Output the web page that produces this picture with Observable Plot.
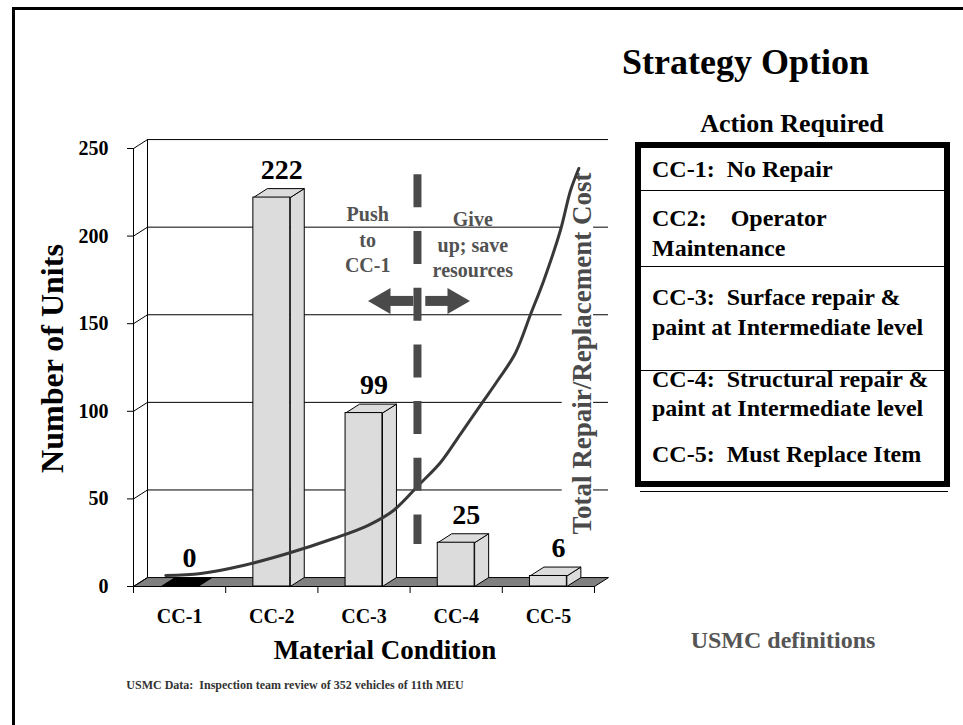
<!DOCTYPE html>
<html><head><meta charset="utf-8">
<script src="https://cdn.jsdelivr.net/npm/d3@7"></script>
<script src="https://cdn.jsdelivr.net/npm/@observablehq/plot@0.6"></script>
<style>
body{margin:0;background:#fff;}
#root{position:relative;width:963px;height:725px;overflow:hidden;font-family:"Liberation Serif","Times New Roman",serif;font-weight:bold;color:#000;}
#root svg{position:absolute;left:0;top:0;}
.t{position:absolute;white-space:pre;line-height:1.2;}
</style></head><body><div id="root"></div>
<script>
// ---- data ----
const categories = ["CC-1", "CC-2", "CC-3", "CC-4", "CC-5"];
const units = [0, 222, 99, 25, 6];
const yTicks = [0, 50, 100, 150, 200, 250];
const xTicks = [0, 1, 2, 3, 4, 5];
// repair/replacement cost curve (x = condition position, y = relative cost on the units scale)
const costX = [0.35, 0.73, 1.19, 1.67, 2.17, 2.54, 2.82, 3.11, 3.33, 3.55, 3.80, 3.95, 4.14, 4.31, 4.45, 4.63, 4.74, 4.83];
const costY = [6.3, 7.4, 12.0, 18.8, 27.4, 34.8, 43.4, 58.8, 70.8, 87.3, 106.2, 117.6, 133, 155.8, 174.7, 203.2, 226.0, 238.6];
const costLabelBoxX = [4.65, 4.99];
const costLabelBoxY = [17.7, 248.9];
const dividerX = [3.08];
const dividerSpan = [24, 235];
const arrowY = 163;
const arrowShaftX1 = [2.74, 3.17];
const arrowShaftX2 = [3.04, 3.45];
const arrowHeadLeftX = [2.706];
const arrowHeadRightX = [3.487];
const noteText = ["Push\nto\nCC-1", "Give\nup; save\nresources"];
const noteX = [2.54, 3.68];
const noteY = [218.7, 215.9];
const yLabel = "Number of Units";
const xLabel = "Material Condition";
const costLabel = "Total Repair/Replacement Cost";
const caption = "USMC Data:  Inspection team review of 352 vehicles of 11th MEU";
const title = "Strategy Option";
const actionTitle = "Action Required";
const actionLines = ["CC-1:  No Repair", "CC2:    Operator", "Maintenance", "CC-3:  Surface repair &", "paint at Intermediate level", "CC-4:  Structural repair &", "paint at Intermediate level", "CC-5:  Must Replace Item"];
const definitions = "USMC definitions";

// ---- derived geometry (3D depth in data units) ----
const DX = 0.152, DY = 5.1, HW = 0.2;
const bars = categories.map((c, i) => ({c, v: units[i], cx: i + 0.5}));
const poly = (id, pts) => pts.concat([pts[0]]).map(([x, y]) => ({id, x, y}));
const sides = bars.filter(b => b.v > 0).flatMap((b, k) => poly("s" + k, [[b.cx + HW, 0], [b.cx + HW, b.v], [b.cx + HW + DX, b.v + DY], [b.cx + HW + DX, DY]]));
const topOf = (b, k) => poly("t" + k, [[b.cx - HW, b.v], [b.cx + HW, b.v], [b.cx + HW + DX, b.v + DY], [b.cx - HW + DX, b.v + DY]]);
const topsPos = bars.filter(b => b.v > 0).flatMap(topOf);
const topsZero = bars.filter(b => b.v === 0).flatMap(topOf);
const floor = poly("f", [[0, 0], [5, 0], [5 + DX, DY], [DX, DY]]);
const cost = costX.map((x, i) => ({x, y: costY[i]}));
const notes = noteText.map((t, i) => ({t, x: noteX[i], y: noteY[i]}));
const shafts = arrowShaftX1.map((x1, i) => ({x1, x2: arrowShaftX2[i], y: arrowY}));

const GRAY = "#dcdcdc", DARK = "#4a4a4a";
const chart = Plot.plot({
  width: 963, height: 725,
  marginLeft: 133, marginRight: 369, marginTop: 148, marginBottom: 139,
  x: {domain: [0, 5], axis: null},
  y: {domain: [0, 250], axis: null},
  style: {fontFamily: "'Liberation Serif','Times New Roman',serif", fontWeight: "bold", background: "transparent", overflow: "visible", color: "black"},
  marks: [
    Plot.line(floor, {x: "x", y: "y", z: "id", fill: "#808080", stroke: "black", strokeWidth: 1}),
    Plot.ruleY(yTicks.slice(1), {y: d => d + DY, x1: DX, x2: 5 + DX, stroke: "black", strokeWidth: 1}),
    Plot.ruleX([DX], {y1: DY, y2: 250 + DY, stroke: "black", strokeWidth: 1}),
    Plot.ruleX([0], {y1: 0, y2: 250, stroke: "black", strokeWidth: 1}),
    Plot.link(yTicks, {x1: 0, y1: d => d, x2: DX, y2: d => d + DY, stroke: "black", strokeWidth: 1}),
    Plot.rect([0], {x1: costLabelBoxX[0], x2: costLabelBoxX[1], y1: costLabelBoxY[0], y2: costLabelBoxY[1], fill: "white"}),
    Plot.axisY(yTicks, {tickSize: 6, tickPadding: 19, fontSize: 20, fontWeight: "bold", label: null}),
    Plot.axisX(xTicks, {tickSize: 7, tickFormat: () => "", label: null}),
    Plot.line(sides, {x: "x", y: "y", z: "id", fill: GRAY, stroke: "black", strokeWidth: 1}),
    Plot.line(topsPos, {x: "x", y: "y", z: "id", fill: GRAY, stroke: "black", strokeWidth: 1}),
    Plot.line(topsZero, {x: "x", y: "y", z: "id", fill: "black", stroke: "black", strokeWidth: 1}),
    Plot.rect(bars.filter(b => b.v > 0), {x1: d => d.cx - HW, x2: d => d.cx + HW, y1: 0, y2: "v", fill: GRAY, stroke: "black", strokeWidth: 1}),
    Plot.text(bars, {x: "cx", y: "v", text: d => String(d.v), dx: 10, dy: -28, fontSize: 28}),
    Plot.text(bars, {x: "cx", text: "c", frameAnchor: "bottom", dy: 36, fontSize: 20}),
    Plot.text([yLabel], {frameAnchor: "left", textAnchor: "middle", rotate: -90, dx: -81, dy: -9, fontSize: 32}),
    Plot.text([xLabel], {frameAnchor: "bottom", dx: 21, dy: 72, fontSize: 27}),
    Plot.text([costLabel], {frameAnchor: "right", textAnchor: "middle", rotate: -90, dx: -12, dy: -14, fontSize: 27, fill: DARK}),
    Plot.line(cost, {x: "x", y: "y", curve: "catmull-rom", stroke: "#383838", strokeWidth: 3}),
    Plot.ruleX(dividerX, {y1: dividerSpan[1], y2: dividerSpan[0], stroke: DARK, strokeWidth: 8, strokeDasharray: "33 23.7"}),
    Plot.ruleY(shafts, {y: "y", x1: "x1", x2: "x2", stroke: DARK, strokeWidth: 10}),
    Plot.dot(arrowHeadLeftX, {x: d => d, y: arrowY, symbol: "triangle", r: 9.65, rotate: -90, fill: DARK, stroke: null}),
    Plot.dot(arrowHeadRightX, {x: d => d, y: arrowY, symbol: "triangle", r: 9.65, rotate: 90, fill: DARK, stroke: null}),
    Plot.text(notes, {x: "x", y: "y", text: "t", lineAnchor: "top", lineHeight: 1.27, fontSize: 20, fill: "#525252"})
  ]
});
const root = document.getElementById("root");
root.appendChild(chart);

// ---- overlay text / panel ----
function label(txt, {x, baseline, size, anchor = "start", color = "#000", width = 400}) {
  const d = document.createElement("div");
  d.className = "t";
  d.textContent = txt;
  d.style.fontSize = size + "px";
  d.style.top = (baseline - 0.9375 * size) + "px";
  d.style.color = color;
  if (anchor === "middle") { d.style.left = (x - width / 2) + "px"; d.style.width = width + "px"; d.style.textAlign = "center"; }
  else d.style.left = x + "px";
  root.appendChild(d);
}
function box(css) {
  const d = document.createElement("div");
  d.style.position = "absolute";
  Object.assign(d.style, css);
  root.appendChild(d);
}
// page frame
box({left: "12px", top: "7px", width: "960px", height: "730px", borderTop: "3px solid #000", borderLeft: "3px solid #000"});
label(title, {x: 622, baseline: 75, size: 36});
label(actionTitle, {x: 792, baseline: 132, size: 26, anchor: "middle"});
label(caption, {x: 295, baseline: 689, size: 12, anchor: "middle", color: "#333"});
label(definitions, {x: 783, baseline: 648, size: 24, anchor: "middle", color: "#555"});
// action table
box({left: "635px", top: "142px", width: "315px", height: "345px", border: "6px solid #000", boxSizing: "border-box", background: "#fff"});
box({left: "640px", top: "491px", width: "308px", height: "0px", borderTop: "1px solid #000"});
[190, 266, 370].forEach(y => box({left: "641px", top: y + "px", width: "303px", height: "0px", borderTop: "1px solid #000"}));
const baselines = [177, 226, 256, 305, 335, 387, 416, 462];
actionLines.forEach((s, i) => label(s, {x: 652, baseline: baselines[i], size: 24}));
</script></body></html>
